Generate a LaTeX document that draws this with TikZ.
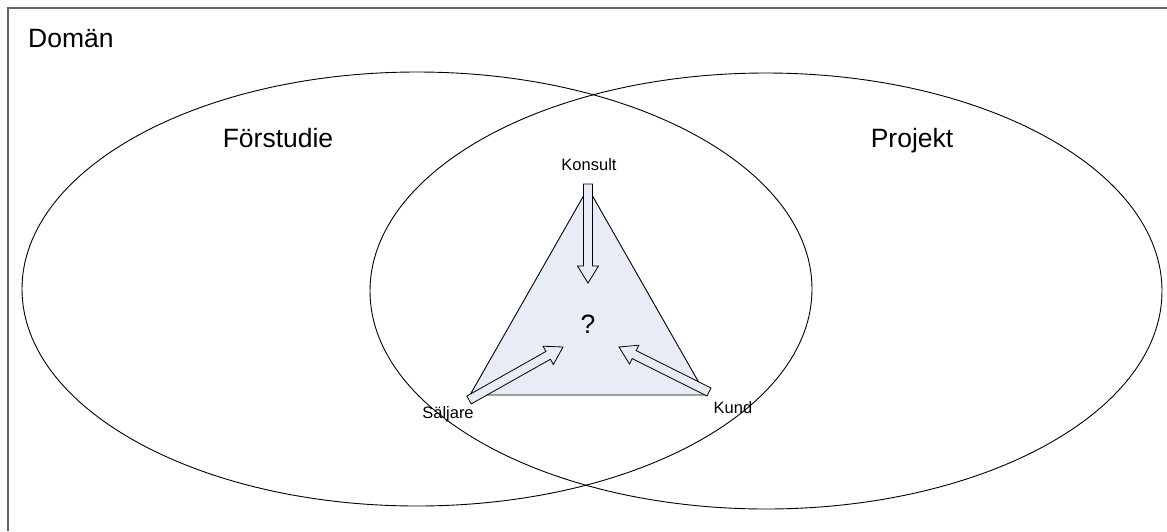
\documentclass[tikz,border=0pt]{standalone}
\usepackage{fontspec}
\setmainfont{Liberation Sans}
\usetikzlibrary{calc}
\definecolor{trifill}{RGB}{231,236,247}
\definecolor{framecol}{RGB}{100,100,100}
\newcommand{\blockarrow}[2]{%
  \coordinate (hb) at ($(#2)!17pt!(#1)$);
  \filldraw[arrowbox] ($(#1)!4.5pt!90:(#2)$) -- ($(hb)!4.5pt!-90:(#1)$) -- ($(hb)!10.5pt!-90:(#1)$) -- (#2)
    -- ($(hb)!10.5pt!90:(#1)$) -- ($(hb)!4.5pt!90:(#1)$) -- ($(#1)!4.5pt!-90:(#2)$) -- cycle;}
\begin{document}
\begin{tikzpicture}[x=1pt,y=-1pt,
  frame/.style={draw=framecol,line width=1.3pt},
  venn/.style={draw=black,line width=0.9pt},
  tri/.style={draw=black,fill=trifill,line width=0.9pt},
  arrowbox/.style={draw=black,fill=trifill,line width=0.8pt,line join=miter},
  big/.style={inner sep=0pt,font=\fontsize{26.5}{30}\selectfont},
  lab/.style={inner sep=0pt,font=\fontsize{16.5}{19}\selectfont}]
\useasboundingbox (0,0) rectangle (1167,531);
\fill[white] (0,0) rectangle (1167,531);
\draw[frame] (8,531) -- (8,8) -- (1167,8);
\draw[venn] (417,289) ellipse [x radius=395pt, y radius=217pt];
\draw[venn] (766,291) ellipse [x radius=396pt, y radius=218pt];
\coordinate (K) at (588,188);
\coordinate (S) at (470,395);
\coordinate (D) at (706,395);
\draw[tri] (K) -- (S) -- (D) -- cycle;
\coordinate (kt) at (588,184);
\coordinate (kh) at (588,283);
\coordinate (st) at (469,400);
\coordinate (sh) at (563,347);
\coordinate (dt) at (709,392);
\coordinate (dh) at (619,347);
\blockarrow{kt}{kh}
\blockarrow{st}{sh}
\blockarrow{dt}{dh}
\node[big,anchor=base west] (doman) at (28,47) {Domän};
\node[big,anchor=base] (forstudie) at (278,147) {Förstudie};
\node[big,anchor=base] (projekt) at (912,147) {Projekt};
\node[lab,anchor=base] (konsult) at (589,170) {Konsult};
\node[lab,anchor=base] (saljare) at (448,418) {Säljare};
\node[lab,anchor=base] (kund) at (733,413) {Kund};
\node[big,anchor=base] (q) at (588,333) {?};
\end{tikzpicture}
\end{document}
